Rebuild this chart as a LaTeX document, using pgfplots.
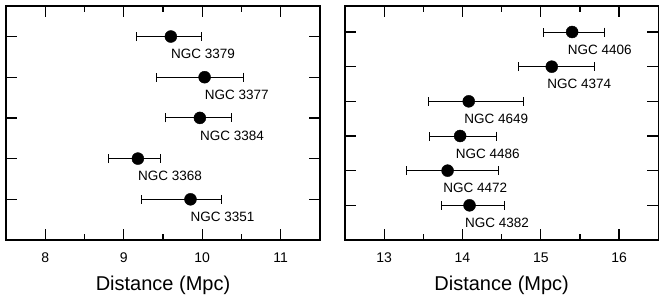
\documentclass[border=0pt]{standalone}
\usepackage{fontspec}
\setmainfont{Liberation Sans}
\usepackage{pgfplots}
\usepackage{pgfplotstable}
\pgfplotsset{compat=1.18}

\pgfplotstableread[col sep=comma]{
x,y,ep,em,name
9.60,5,0.39,0.44,NGC 3379
10.03,4,0.49,0.61,NGC 3377
9.97,3,0.40,0.44,NGC 3384
9.18,2,0.29,0.37,NGC 3368
9.85,1,0.40,0.62,NGC 3351
}\leftdata

\pgfplotstableread[col sep=comma]{
x,y,ep,em,name
15.40,6,0.41,0.36,NGC 4406
15.14,5,0.54,0.43,NGC 4374
14.08,4,0.70,0.51,NGC 4649
13.97,3,0.47,0.39,NGC 4486
13.81,2,0.65,0.53,NGC 4472
14.09,1,0.45,0.36,NGC 4382
}\rightdata

\pgfplotsset{
  galaxy/.style={
    scale only axis,
    height=234bp,
    axis line style={line width=1.3bp},
    every tick/.style={black, line width=1.3bp},
    major tick length=11bp,
    minor tick length=6bp,
    tick align=inside,
    minor x tick num=1,
    yticklabels={},
    /pgf/number format/assume math mode=true,
    xticklabel style={font=\fontsize{14bp}{16bp}\selectfont, anchor=center, yshift=-18bp},
    xlabel={Distance (Mpc)},
    xlabel style={font=\fontsize{20bp}{24bp}\selectfont, at={(axis description cs:0.5,0)}, anchor=center, yshift=-45bp},
    ymin=0,
  },
  galplot/.style={
    only marks, draw=black, fill=black,
    mark=*, mark size=6bp, mark options={draw=black, fill=black},
    error bars/.cd, x dir=both, x explicit,
    error mark=|,
    error bar style={line width=1bp, black},
    error mark options={line width=1bp, mark size=4.5bp, draw=black},
  },
}

\begin{document}
\begin{tikzpicture}
\useasboundingbox (-6bp,-60bp) rectangle (659bp,240bp);
\begin{axis}[galaxy, at={(0,0)}, anchor=south west,
  width=314bp, xmin=7.5, xmax=11.5, ymax=5.75,
  xtick={8,9,10,11}, ytick={1,2,3,4,5},
  nodes near coords={\pgfplotspointmeta},
  nodes near coords style={anchor=west, inner sep=0pt, xshift=0bp, yshift=-17.5bp, font=\fontsize{13.5bp}{16bp}\selectfont, text=black},
  point meta=explicit symbolic]
\addplot[galplot] table[x=x, y=y, x error plus=ep, x error minus=em, meta=name] {\leftdata};
\end{axis}
\begin{axis}[galaxy, at={(339bp,0)}, anchor=south west,
  width=313.3bp, xmin=12.5, xmax=16.5, ymax=6.75,
  xtick={13,14,15,16}, ytick={1,2,3,4,5,6},
  nodes near coords={\pgfplotspointmeta},
  nodes near coords style={anchor=west, inner sep=0pt, xshift=-4.5bp, yshift=-17.5bp, font=\fontsize{13.5bp}{16bp}\selectfont, text=black},
  point meta=explicit symbolic]
\addplot[galplot] table[x=x, y=y, x error plus=ep, x error minus=em, meta=name] {\rightdata};
\end{axis}
\end{tikzpicture}
\end{document}
